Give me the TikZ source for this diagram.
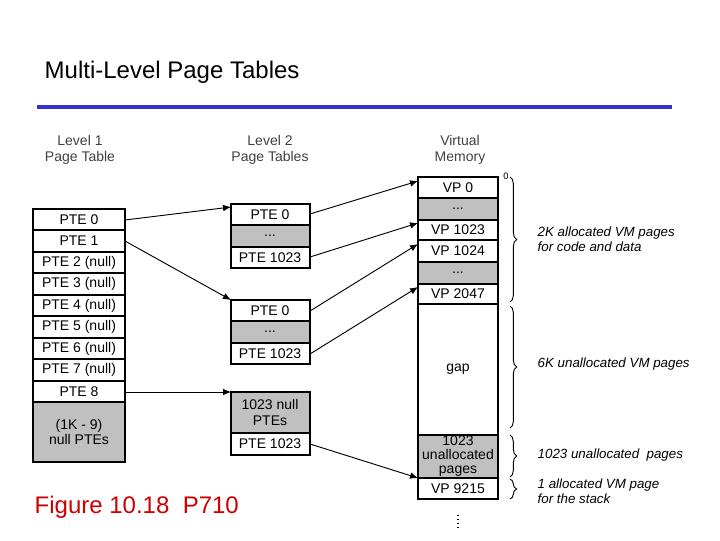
\documentclass[tikz,border=0pt]{standalone}
\usepackage{fontspec}
\setmainfont{Liberation Sans}
\usetikzlibrary{decorations.pathreplacing,arrows.meta}
\definecolor{cellgray}{RGB}{192,192,192}
\definecolor{titleblue}{RGB}{51,51,204}
\definecolor{figred}{RGB}{204,0,0}
\newcommand{\mydots}{...}
\tikzset{
 cell/.style={draw,line width=1.7pt,fill=white},
 gcell/.style={draw,line width=1.7pt,fill=cellgray},
 txt/.style={font=\fontsize{10.5}{11.5}\selectfont,align=center},
 hdr/.style={font=\fontsize{10.5}{12}\selectfont,align=center,text=black!75},
 lbl/.style={font=\fontsize{10}{11}\selectfont\itshape,align=left,anchor=west},
 arr/.style={-{Latex[length=6pt,width=5pt]},line width=0.7pt},
 brc/.style={decorate,decoration={brace,amplitude=5pt},line width=0.7pt}
}
\begin{document}
\begin{tikzpicture}[x=0.75pt,y=-0.75pt]
\useasboundingbox (0,0) rectangle (720,540);
\node[anchor=west,font=\fontsize{18}{20}\selectfont] (title) at (40,72) {Multi-Level Page Tables};
\draw[titleblue,line width=2.5pt] (37,107) -- (672,107);
\node[hdr] (h1) at (80,150) {Level 1\\Page Table};
\node[hdr] (h2) at (270,150) {Level 2\\Page Tables};
\node[hdr] (h3) at (460,150) {Virtual\\Memory};
% Level 1
\foreach \n/\a/\b/\t in {p0/209/230/PTE 0,p1/230/252/PTE 1,p2/252/273/PTE 2 (null),p3/273/295/PTE 3 (null),p4/295/316/PTE 4 (null),p5/316/338/PTE 5 (null),p6/338/359/PTE 6 (null),p7/359/381/PTE 7 (null),p8/381/402/PTE 8}
 {\draw[cell] (33,\a) rectangle (125,\b); \node[txt] (\n) at (79,{(\a+\b)/2}) {\t};}
\draw[gcell] (33,402) rectangle (125,462);
\node[txt] (pn) at (79,432) {(1K - 9)\\null PTEs};
% Level 2 A
\draw[cell] (231,204) rectangle (310,225); \node[txt] (a0) at (270,214.5) {PTE 0};
\draw[gcell] (231,225) rectangle (310,247); \node[txt] (ad) at (270,236) {\mydots};
\draw[cell] (231,247) rectangle (310,268); \node[txt] (a1) at (270,257.5) {PTE 1023};
% B
\draw[cell] (231,300) rectangle (310,321); \node[txt] (b0) at (270,310.5) {PTE 0};
\draw[gcell] (231,321) rectangle (310,343); \node[txt] (bd) at (270,332) {\mydots};
\draw[cell] (231,343) rectangle (310,364); \node[txt] (b1) at (270,353.5) {PTE 1023};
% C
\draw[gcell] (231,392) rectangle (310,433); \node[txt] (cn) at (270,412.5) {1023 null\\PTEs};
\draw[cell] (231,433) rectangle (310,455); \node[txt] (c1) at (270,444) {PTE 1023};
% VM
\foreach \n/\a/\b/\t/\s in {v0/177/198/VP 0/cell,vd1/198/220/\mydots/gcell,v1/220/240/VP 1023/cell,v2/240/262/VP 1024/cell,vd2/262/284/\mydots/gcell,v3/284/304/VP 2047/cell,vg/304/435/gap/cell}
 {\draw[\s] (418,\a) rectangle (498,\b); \node[txt] (\n) at (458,{(\a+\b)/2}) {\t};}
\draw[gcell] (418,435) rectangle (498,478);
\node[txt,font=\fontsize{10.5}{10.5}\selectfont] (vu) at (458,456) {1023\\unallocated\\pages};
\draw[cell] (418,478) rectangle (498,499); \node[txt] (v4) at (458,488.5) {VP 9215};
\node[font=\scriptsize] (zero) at (506,176) {0};
\draw[line width=1pt,dotted] (458,515) -- (458,530);
% arrows
\coordinate (s0) at (125,220); \coordinate (s1) at (125,241); \coordinate (s8) at (125,392);
\coordinate (ta) at (231,207); \coordinate (tb) at (231,300); \coordinate (tc) at (231,392);
\draw[arr] (s0) -- (ta);
\draw[arr] (s1) -- (tb);
\draw[arr] (s8) -- (tc);
\draw[arr] (310,214) -- (418,181);
\draw[arr] (310,257) -- (418,223);
\draw[arr] (310,311) -- (418,244);
\draw[arr] (310,354) -- (418,287);
\draw[arr] (310,444) -- (418,478);
% braces
\draw[brc] (510,177) -- (510,302);
\draw[brc] (510,306) -- (510,428);
\draw[brc] (510,435) -- (510,477);
\draw[brc] (510,479) -- (510,499);
\node[lbl] (l1) at (533,239) {2K allocated VM pages\\for code and data};
\node[lbl] (l2) at (533,364) {6K unallocated VM pages};
\node[lbl] (l3) at (533,455) {1023 unallocated\ \ pages};
\node[lbl] (l4) at (533,491) {1 allocated VM page\\for the stack};
\node[anchor=west,text=figred,font=\fontsize{18}{20}\selectfont] (fig) at (30,507) {Figure 10.18\ \ P710};
\end{tikzpicture}
\end{document}
